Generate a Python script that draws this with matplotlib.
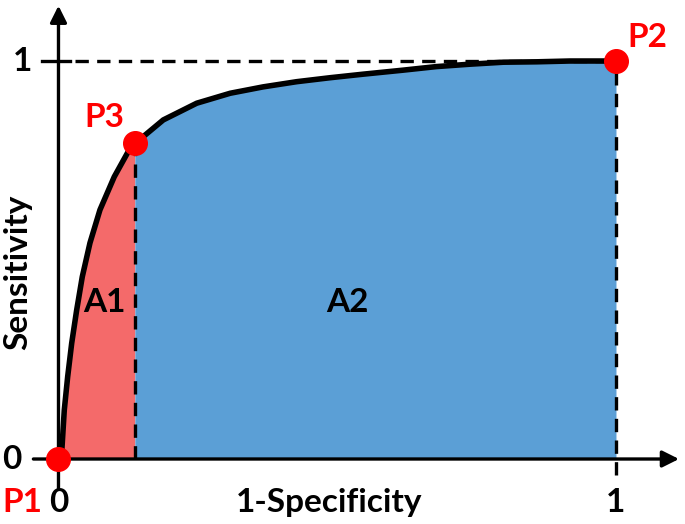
import matplotlib.pyplot as plt
import numpy as np

# ROC curve (1-specificity, sensitivity)
fpr = [0.0, 0.002, 0.0057, 0.0104, 0.0165, 0.0237, 0.0326, 0.0427, 0.0565,
       0.0744, 0.100, 0.1265, 0.137, 0.152, 0.188, 0.248, 0.308, 0.367,
       0.427, 0.487, 0.547, 0.618, 0.678, 0.738, 0.798, 0.858, 0.917, 0.977, 1.0]
tpr = [0.0, 0.006, 0.015, 0.123, 0.207, 0.291, 0.374, 0.458, 0.543,
       0.626, 0.709, 0.776, 0.793, 0.810, 0.852, 0.894, 0.919, 0.935,
       0.948, 0.958, 0.967, 0.977, 0.986, 0.992, 0.997, 0.998, 1.0, 1.0, 1.0]
split = 12  # index of P3

points = {'P1': (0.0, 0.0), 'P2': (1.0, 1.0), 'P3': (fpr[split], tpr[split])}
tick_labels = ['0', '1']

red_fill = '#F46A6A'
blue_fill = '#5B9FD6'
marker_red = '#FF0000'

fig = plt.figure(figsize=(6.85, 5.24), dpi=100)
ax = fig.add_axes([0, 0, 1, 1])
ax.set_xlim(-0.1049, 1.1238)
ax.set_ylim(-0.1633, 1.1533)
ax.axis('off')

plt.rcParams['font.family'] = ['Lato', 'DejaVu Sans']

x = np.array(fpr)
y = np.array(tpr)
ax.fill_between(x[:split + 1], 0, y[:split + 1], color=red_fill, lw=0, zorder=1)
ax.fill_between(x[split:], 0, y[split:], color=blue_fill, lw=0, zorder=1)

# dashed guides
dash = (0, (4, 2.5))
ax.plot([0.03, 1.0], [1, 1], color='black', lw=2.4, ls=dash, zorder=2)
ax.plot([fpr[split], fpr[split]], [0, tpr[split]], color='black', lw=2.4, ls=dash, zorder=2)
ax.plot([1, 1], [-0.04, 1], color='black', lw=2.4, ls=dash, zorder=2)
ax.plot([-0.03, 0.02], [1, 1], color='black', lw=2.4, zorder=2)

# axes with arrows
ax.annotate('', xy=(1.118, 0), xytext=(-0.05, 0),
            arrowprops=dict(arrowstyle='-|>', lw=2.4, color='black', mutation_scale=25), zorder=3)
ax.annotate('', xy=(0, 1.146), xytext=(0, -0.083),
            arrowprops=dict(arrowstyle='-|>', lw=2.4, color='black', mutation_scale=25), zorder=3)

ax.plot(fpr, tpr, color='black', lw=4, solid_capstyle='round', solid_joinstyle='round', zorder=4)

for name, (px, py) in points.items():
    ax.plot(px, py, 'o', color=marker_red, ms=17, zorder=5)

fs = 24
ax.text(-0.065, 1.0, tick_labels[1], fontsize=fs, fontweight='bold', va='center', ha='center')
ax.text(-0.083, 0.0, tick_labels[0], fontsize=fs, fontweight='bold', va='center', ha='center')
ax.text(0.0, -0.11, tick_labels[0], fontsize=fs, fontweight='bold', va='center', ha='center')
ax.text(1.0, -0.11, tick_labels[1], fontsize=fs, fontweight='bold', va='center', ha='center')

ax.text(-0.1015, -0.11, 'P1', fontsize=fs, fontweight='bold', color=marker_red, va='center', ha='left')
ax.text(1.056, 1.058, 'P2', fontsize=fs, fontweight='bold', color=marker_red, va='center', ha='center')
ax.text(0.083, 0.857, 'P3', fontsize=fs, fontweight='bold', color=marker_red, va='center', ha='center')

ax.text(0.083, 0.392, 'A1', fontsize=fs, fontweight='bold', va='center', ha='center')
ax.text(0.519, 0.392, 'A2', fontsize=fs, fontweight='bold', va='center', ha='center')

ax.text(0.485, -0.11, '1-Specificity', fontsize=fs, fontweight='bold', va='center', ha='center')
ax.text(-0.073, 0.47, 'Sensitivity', fontsize=fs, fontweight='bold', va='center', ha='center', rotation=90)

fig.savefig('out.png', dpi=100)
